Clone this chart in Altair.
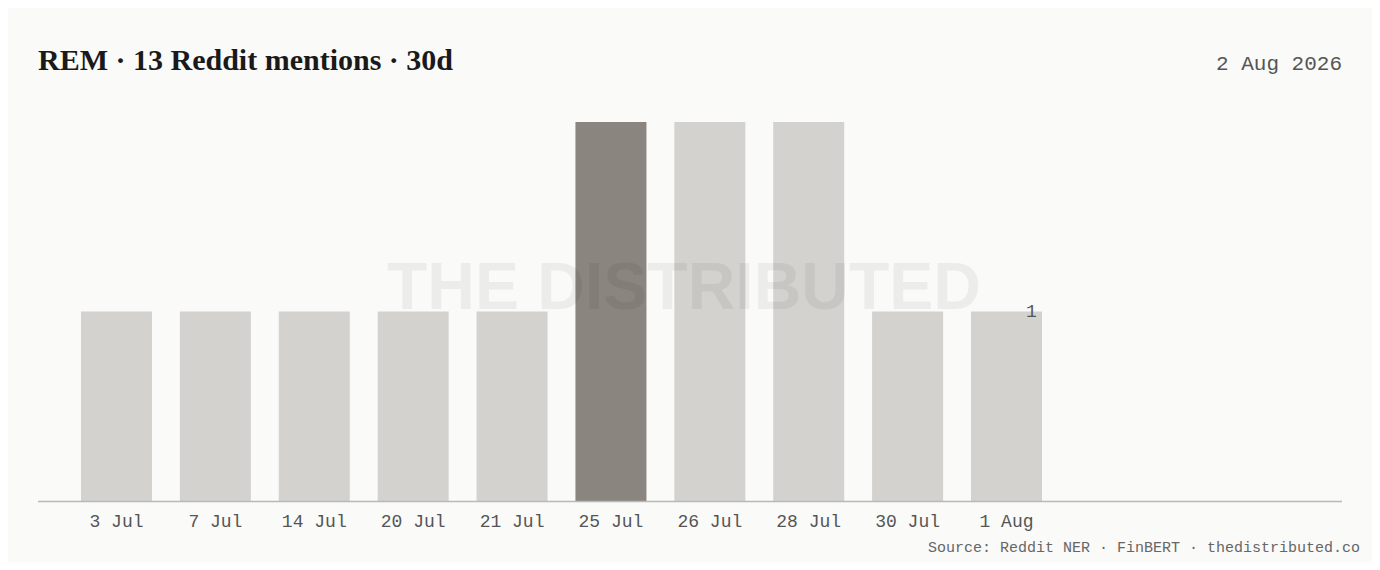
import altair as alt
import pandas as pd

dates = ["3 Jul", "7 Jul", "14 Jul", "20 Jul", "21 Jul", "25 Jul", "26 Jul", "28 Jul", "30 Jul", "1 Aug"]
mentions = [1, 1, 1, 1, 1, 2, 2, 2, 1, 1]
highlight = "25 Jul"
label_date = "1 Aug"
title_text = "REM · 13 Reddit mentions · 30d"
date_text = "2 Aug 2026"
source_text = "Source: Reddit NER · FinBERT · thedistributed.co"
watermark_text = "THE DISTRIBUTED"

W, H = 1304, 379
MONO = "Liberation Mono"

df = pd.DataFrame({
    "date": dates,
    "mentions": mentions,
    "hl": [d == highlight for d in dates],
})

x = alt.X(
    "date:N",
    sort=dates,
    scale=alt.Scale(range=[43, 1004], paddingInner=0.282, paddingOuter=0),
    axis=alt.Axis(
        title=None, labelAngle=0, ticks=False, grid=False, domain=False,
        labelFont=MONO, labelFontSize=18, labelColor="#555555",
        labelPadding=11,
    ),
)
y = alt.Y("mentions:Q", scale=alt.Scale(domain=[0, 2], nice=False), axis=None)

bars = alt.Chart(df).mark_bar().encode(
    x=x,
    y=y,
    color=alt.condition(alt.datum.hl, alt.value("#8a857e"), alt.value("#d3d2ce")),
)

baseline = alt.Chart(pd.DataFrame({"t": [0]})).mark_rule(
    color="#b9b9b7", strokeWidth=1.5
).encode(x=alt.value(0), x2=alt.value(W), y=alt.value(H + 0.5))

label = alt.Chart(df).transform_filter(alt.datum.date == label_date).mark_text(
    dx=25, baseline="middle", align="center", font=MONO, fontSize=18, color="#555555"
).encode(x=x, y=y, text="mentions:Q")

watermark = alt.Chart(pd.DataFrame({"t": [watermark_text]})).mark_text(
    font="Liberation Sans", fontWeight="bold", fontSize=66, color="#000000",
    opacity=0.05, align="center", baseline="alphabetic",
).encode(x=alt.value(646), y=alt.value(187), text="t:N")

title = alt.Chart(pd.DataFrame({"t": [title_text]})).mark_text(
    font="Liberation Serif", fontWeight="bold", fontSize=30, color="#1a1a1a",
    align="left", baseline="alphabetic",
).encode(x=alt.value(0), y=alt.value(-52), text="t:N")

date_lbl = alt.Chart(pd.DataFrame({"t": [date_text]})).mark_text(
    font=MONO, fontSize=21, color="#555555", align="right", baseline="alphabetic",
).encode(x=alt.value(W), y=alt.value(-52), text="t:N")

source = alt.Chart(pd.DataFrame({"t": [source_text]})).mark_text(
    font=MONO, fontSize=15, color="#666666", align="right", baseline="alphabetic",
).encode(x=alt.value(1322), y=alt.value(430), text="t:N")

chart = alt.layer(bars, baseline, label, watermark, title, date_lbl, source).properties(
    width=W,
    height=H,
    background="#fafaf9",
    padding={"left": 30, "top": 114, "right": 30, "bottom": 61},
    autosize=alt.AutoSizeParams(type="none"),
).configure_view(stroke=None)

chart.save("out.html", embed_options={"renderer": "svg", "actions": False})
